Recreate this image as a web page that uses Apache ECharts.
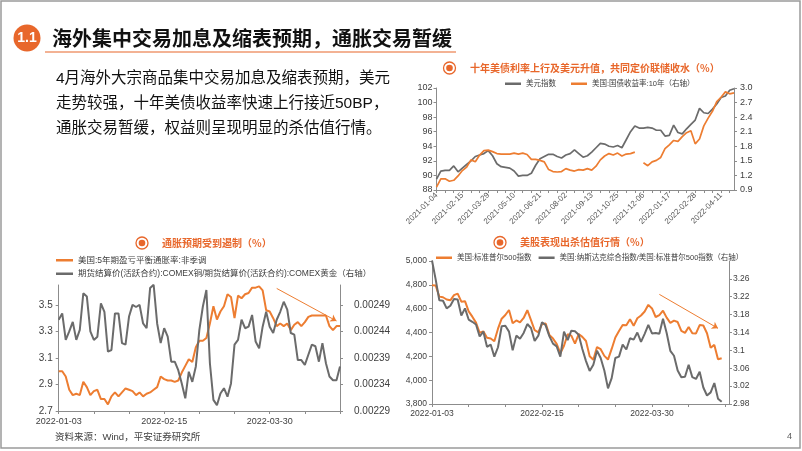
<!DOCTYPE html>
<html>
<head>
<meta charset="utf-8">
<script src="https://cdn.jsdelivr.net/npm/echarts@6/dist/echarts.min.js"></script>
<style>
* { margin: 0; padding: 0; }
html, body { width: 802px; height: 451px; background: #fff; overflow: hidden; }
#slide { width: 802px; height: 451px; }
</style>
</head>
<body>
<div id="slide"></div>
<script>
// ---------- data ----------
// top right: weekly points, 2021-01-04 .. 2022-05-02
var usdIndex = [89.5, 90.6, 90.7, 90.7, 91.3, 90.5, 91.0, 91.5, 92.0, 92.6,
  92.8, 93.0, 93.4, 92.7, 91.6, 91.2, 91.1, 91.0, 90.6, 89.9,
  90.0, 90.0, 90.3, 91.4, 92.3, 92.6, 92.9, 92.9, 92.6, 92.4,
  92.8, 93.0, 93.5, 93.0, 92.5, 92.7, 93.2, 93.8, 94.4, 94.3,
  94.0, 93.9, 94.1, 93.8, 94.9, 96.0, 96.8, 96.5, 96.5, 96.6,
  96.5, 96.2, 96.2, 95.4, 95.5, 96.9, 95.9, 95.7, 96.4, 97.0,
  97.6, 99.2, 98.6, 98.5, 99.1, 99.8, 100.7, 100.9, 101.7, 101.9];
var ust10y = [0.96, 1.13, 1.13, 1.08, 1.10, 1.19, 1.30, 1.37, 1.52, 1.48,
  1.62, 1.71, 1.72, 1.69, 1.65, 1.64, 1.64, 1.64, 1.66, 1.64,
  1.66, 1.63, 1.53, 1.53, 1.51, 1.48, 1.32, 1.28, 1.27, 1.28,
  1.34, 1.31, 1.29, 1.32, 1.31, 1.34, 1.31, 1.39, 1.52, 1.60,
  1.65, 1.62, 1.66, 1.60, 1.64, 1.65, 1.68, null, 1.46, 1.40,
  1.48, 1.51, 1.57, 1.75, 1.83, 1.92, 1.90, 2.00, 2.08, 2.12,
  1.85, 1.95, 2.22, 2.38, 2.52, 2.72, 2.81, 2.92, 2.88, 2.90];

// bottom left: trading days 2022-01-03 .. 2022-04-28
var breakeven5y = [3.00, 3.00, 2.96, 2.86, 2.82, 2.83, 2.82, 2.92, 2.88, 2.82,
  2.85, 2.86, 2.79, 2.79, 2.75, 2.81, 2.84, 2.81, 2.84, 2.87,
  2.86, 2.85, 2.82, 2.84, 2.81, 2.83, 2.84, 2.86, 2.88, 2.96,
  2.94, 2.93, 2.93, 2.92, 2.93, 2.99, 3.04, 3.09, 3.07, 3.18,
  3.23, 3.23, 3.25, 3.36, 3.49, 3.39, 3.45, 3.49, 3.58, 3.56,
  3.40, 3.57, 3.55, 3.58, 3.59, 3.63, 3.63, 3.64, 3.61, 3.46,
  3.45, 3.40, 3.34, 3.36, 3.34, 3.36, 3.31, 3.35, 3.37, 3.34,
  3.37, 3.41, 3.42, 3.42, 3.42, 3.42, 3.42, 3.34, 3.31, 3.34,
  3.34];
var copperGold = [0.002462, 0.002474, 0.002424, 0.002440, 0.002458, 0.002424, 0.002443, 0.002512, 0.002506, 0.002440,
  0.002424, 0.002430, 0.002493, 0.002477, 0.002402, 0.002405, 0.002474, 0.002474, 0.002418, 0.002415,
  0.002468, 0.002490, 0.002486, 0.002490, 0.002455, 0.002446, 0.002522, 0.002528, 0.002455, 0.002418,
  0.002446, 0.002430, 0.002383, 0.002383, 0.002367, 0.002342, 0.002314, 0.002364, 0.002345, 0.002374,
  0.002443, 0.002487, 0.002518, 0.002380, 0.002311, 0.002301, 0.002323, 0.002333, 0.002317, 0.002342,
  0.002415, 0.002424, 0.002462, 0.002446, 0.002449, 0.002471, 0.002421, 0.002408, 0.002449, 0.002477,
  0.002449, 0.002437, 0.002462, 0.002477, 0.002496, 0.002481, 0.002437, 0.002434, 0.002386, 0.002386,
  0.002377, 0.002396, 0.002415, 0.002412, 0.002383, 0.002418, 0.002380, 0.002355, 0.002348, 0.002348,
  0.002374];

// bottom right: trading days 2022-01-03 .. 2022-04-27 (axis runs to 04-29)
var spx = [4797, 4794, 4701, 4696, 4677, 4670, 4713, 4726, 4659, 4663,
  4577, 4533, 4483, 4398, 4410, 4356, 4350, 4327, 4432, 4516,
  4547, 4589, 4477, 4501, 4484, 4522, 4587, 4504, 4419, 4402,
  4471, 4475, 4380, 4349, 4305, 4226, 4289, 4385, 4374, 4306,
  4387, 4363, 4329, 4201, 4171, 4278, 4260, 4204, 4173, 4262,
  4358, 4412, 4463, 4461, 4512, 4456, 4520, 4543, 4576, 4632,
  4602, 4530, 4546, 4583, 4525, 4481, 4500, 4488, 4413, 4397,
  4447, 4393, 4392, 4462, 4459, 4394, 4272, 4296, 4175, 4184, null, null];
var nasdaqToSpx = [3.301, 3.259, 3.212, 3.211, 3.194, 3.200, 3.215, 3.214, 3.178, 3.194,
  3.169, 3.164, 3.158, 3.131, 3.142, 3.108, 3.113, 3.086, 3.107, 3.154,
  3.155, 3.142, 3.100, 3.133, 3.126, 3.139, 3.159, 3.150, 3.121, 3.133,
  3.163, 3.156, 3.132, 3.115, 3.109, 3.086, 3.142, 3.123, 3.144, 3.143,
  3.135, 3.103, 3.076, 3.054, 3.068, 3.099, 3.083, 3.055, 3.015, 3.038,
  3.083, 3.086, 3.113, 3.102, 3.127, 3.124, 3.140, 3.119, 3.137, 3.157,
  3.138, 3.139, 3.137, 3.171, 3.139, 3.099, 3.088, 3.055, 3.040, 3.041,
  3.068, 3.040, 3.036, 3.052, 3.017, 2.999, 3.006, 3.027, 2.992, 2.985, null, null];

var usHolidays = ['2022-01-17', '2022-02-21', '2022-04-15'];

var bodyLines = [
  '4月海外大宗商品集中交易加息及缩表预期，美元',
  '走势较强，十年美债收益率快速上行接近50BP，',
  '通胀交易暂缓，权益则呈现明显的杀估值行情。'
];

// ---------- helpers ----------
function tradingDays(from, to, skip) {
  var out = [];
  var d = new Date(from + 'T00:00:00Z');
  var end = new Date(to + 'T00:00:00Z');
  for (; d <= end; d.setUTCDate(d.getUTCDate() + 1)) {
    var wd = d.getUTCDay();
    var s = d.toISOString().slice(0, 10);
    if (wd > 0 && wd < 6 && skip.indexOf(s) < 0) out.push(s);
  }
  return out;
}
function weeks(from, n) {
  var out = [];
  var d = new Date(from + 'T00:00:00Z');
  for (var i = 0; i < n; i++) {
    out.push(d.toISOString().slice(0, 10));
    d.setUTCDate(d.getUTCDate() + 7);
  }
  return out;
}

var weekDates = weeks('2021-01-04', usdIndex.length);
var days2022 = tradingDays('2022-01-03', '2022-04-29', usHolidays);
var daysLeft = days2022.slice(0, breakeven5y.length);

var ORANGE = '#ED7D31';
var GRAY = '#6B6B6B';
var TITLE = '#E8672B';
var AXIS = '#8C8C8C';
var NUM = 'Liberation Sans, Noto Sans CJK SC, sans-serif';
var CJK = 'Noto Sans CJK SC, sans-serif';

function catAxis(grid, data, labelEvery, tickEvery, size, extra) {
  var ax = {
    type: 'category', gridIndex: grid, data: data, boundaryGap: false,
    axisLine: { show: true, lineStyle: { color: AXIS, width: 1 } },
    axisTick: { show: true, interval: tickEvery - 1, length: 3, lineStyle: { color: AXIS } },
    axisLabel: { interval: labelEvery - 1, fontSize: size, color: '#404040', fontFamily: NUM, margin: 5 },
    splitLine: { show: false }
  };
  if (extra) Object.assign(ax.axisLabel, extra);
  return ax;
}
function valAxis(grid, pos, min, max, step, size, margin, fmt, showTop) {
  return {
    type: 'value', gridIndex: grid, position: pos, min: min, max: max, interval: step,
    axisLine: { show: true, lineStyle: { color: AXIS, width: 1 } },
    axisTick: { show: true, length: 3, lineStyle: { color: AXIS } },
    splitLine: { show: false },
    axisLabel: { fontSize: size, color: '#404040', fontFamily: NUM, margin: margin, formatter: fmt,
      showMaxLabel: showTop }
  };
}
function line(name, x, y, data, color, width) {
  return { name: name, type: 'line', xAxisIndex: x, yAxisIndex: y, data: data,
    symbol: 'none', lineStyle: { color: color, width: width }, itemStyle: { color: color },
    emphasis: { disabled: true } };
}
function arrow(from, to) {
  return { silent: true, symbol: ['none', 'arrow'], symbolSize: 6, label: { show: false },
    lineStyle: { color: ORANGE, width: 1, type: 'solid' }, emphasis: { disabled: true },
    data: [[{ coord: from }, { coord: to }]] };
}
function icon(cx, cy) {
  return [
    { type: 'circle', shape: { cx: cx, cy: cy, r: 6 }, style: { fill: '#fff', stroke: TITLE, lineWidth: 1.3 } },
    { type: 'circle', shape: { cx: cx, cy: cy, r: 3.3 }, style: { fill: TITLE } }
  ];
}
function text(x, y, str, size, color, weight, family) {
  return { type: 'text', x: x, y: y, style: { text: str, fontSize: size, fill: color,
    fontWeight: weight || 'normal', fontFamily: family || CJK, textAlign: 'left', textVerticalAlign: 'middle' } };
}

var graphics = [
  { type: 'rect', shape: { x: 1, y: 1, width: 799, height: 447 }, style: { fill: 'none', stroke: '#9A9A9A', lineWidth: 1.5 } },
  { type: 'circle', shape: { cx: 27, cy: 38, r: 13.5 }, style: { fill: TITLE } },
  { type: 'text', x: 27, y: 38.5, style: { text: '1.1', fontSize: 14, fontWeight: 'bold', fill: '#fff', fontFamily: NUM, textAlign: 'center', textVerticalAlign: 'middle' } },
  text(52, 38, '海外集中交易加息及缩表预期，通胀交易暂缓', 20, '#111', 'bold'),
  { type: 'line', shape: { x1: 45, y1: 52, x2: 456, y2: 52 }, style: { stroke: TITLE, lineWidth: 1.2 } },
  text(470, 68, '十年美债利率上行及美元升值，共同定价联储收水（%）', 10, TITLE, 'bold'),
  text(162, 243, '通胀预期受到遏制（%）', 10, TITLE, 'bold'),
  text(520, 242.5, '美股表现出杀估值行情（%）', 10, TITLE, 'bold'),
  text(55, 437, '资料来源：Wind，平安证券研究所', 9.5, '#404040', 'normal', NUM),
  text(787, 437, '4', 9, '#595959', 'normal', NUM)
].concat(icon(449.5, 68), icon(142, 243), icon(500, 242.5));
bodyLines.forEach(function (s, i) {
  graphics.push(text(56, 79 + i * 25, s, 15.5, '#111', 'normal', NUM));
});

var option = {
  animation: false,
  backgroundColor: '#fff',
  graphic: graphics,
  legend: [
    { left: 505, top: 80, padding: 0, itemGap: 15, itemWidth: 16, itemHeight: 2.5, icon: 'rect',
      textStyle: { fontSize: 7.5, color: '#404040', fontFamily: NUM },
      data: ['美元指数', '美国:国债收益率:10年（右轴）'] },
    { left: 56, top: 256, padding: 0, orient: 'vertical', itemGap: 5, itemWidth: 17, itemHeight: 2.5, icon: 'rect',
      textStyle: { fontSize: 8.5, color: '#404040', fontFamily: NUM },
      data: ['美国:5年期盈亏平衡通胀率:非季调', '期货结算价(活跃合约):COMEX铜/期货结算价(活跃合约):COMEX黄金（右轴）'] },
    { left: 436, top: 254, padding: 0, itemGap: 7, itemWidth: 16, itemHeight: 2.5, icon: 'rect',
      textStyle: { fontSize: 7.5, color: '#404040', fontFamily: NUM },
      data: ['美国:标准普尔500指数', '美国:纳斯达克综合指数/美国:标准普尔500指数（右轴）'] }
  ],
  grid: [
    { left: 436.5, top: 88, width: 297.5, height: 102, outerBoundsMode: 'none', containLabel: false },
    { left: 58.7, top: 285, width: 281.3, height: 126, outerBoundsMode: 'none', containLabel: false },
    { left: 432, top: 261, width: 297, height: 143, outerBoundsMode: 'none', containLabel: false }
  ],
  xAxis: [
    catAxis(0, weekDates, 6, 2, 8, { rotate: 45, margin: 4, color: '#595959' }),
    catAxis(1, daysLeft, 30, 10, 9, { margin: 6 }),
    catAxis(2, days2022, 30, 10, 8.5, { margin: 5 })
  ],
  yAxis: [
    valAxis(0, 'left', 88, 102, 2, 9, 4, function (v) { return String(v); }, true),
    valAxis(0, 'right', 0.9, 3.0, 0.3, 9, 6, function (v) { return v.toFixed(1); }, true),
    valAxis(1, 'left', 2.7, 3.65, 0.2, 10, 6, function (v) { return v.toFixed(1); }, false),
    valAxis(1, 'right', 0.00229, 0.0025275, 0.00005, 10, 14, function (v) { return v.toFixed(5); }, false),
    valAxis(2, 'left', 3800, 5000, 200, 8.5, 5, function (v) { return v.toLocaleString('en-US'); }, true),
    valAxis(2, 'right', 2.98, 3.30, 0.04, 8.5, 4, function (v) { return String(parseFloat(v.toFixed(2))); }, false)
  ],
  series: [
    line('美元指数', 0, 0, usdIndex, GRAY, 1.7),
    line('美国:国债收益率:10年（右轴）', 0, 1, ust10y, ORANGE, 1.7),
    Object.assign(line('美国:5年期盈亏平衡通胀率:非季调', 1, 2, breakeven5y, ORANGE, 2),
      { markLine: arrow([62.1, 3.624], [78.6, 3.379]) }),
    line('期货结算价(活跃合约):COMEX铜/期货结算价(活跃合约):COMEX黄金（右轴）', 1, 3, copperGold, GRAY, 2),
    Object.assign(line('美国:标准普尔500指数', 2, 4, spx, ORANGE, 2),
      { markLine: arrow([62.2, 4720], [78.2, 4435]) }),
    line('美国:纳斯达克综合指数/美国:标准普尔500指数（右轴）', 2, 5, nasdaqToSpx, GRAY, 2)
  ]
};

var chart = echarts.init(document.getElementById('slide'), null, { renderer: 'canvas' });
chart.setOption(option);
</script>
</body>
</html>
